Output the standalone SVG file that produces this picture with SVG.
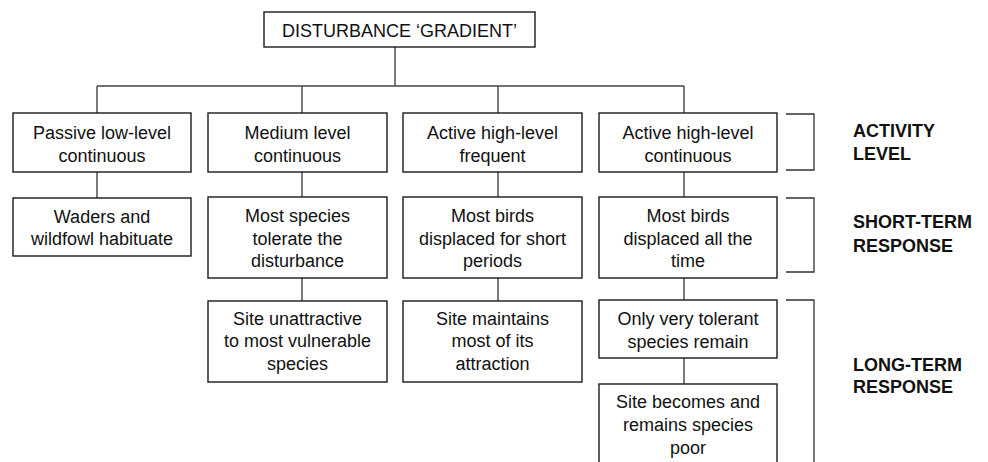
<svg xmlns="http://www.w3.org/2000/svg" width="988" height="462" viewBox="0 0 988 462">
  <style>
    .box { fill: #fff; stroke: #1a1a1a; stroke-width: 1.4; }
    .t { font-family: "Liberation Sans", Arial, sans-serif; font-size: 18px; fill: #111; text-anchor: middle; }
    .lbl { font-family: "Liberation Sans", Arial, sans-serif; font-size: 18px; font-weight: bold; fill: #111; }
    .link { fill: none; stroke: #444; stroke-width: 1.4; }
    .brk { fill: none; stroke: #333; stroke-width: 1.3; }
  </style>
  <rect width="988" height="462" fill="#fff"/>

  <!-- tree connectors -->
  <g id="connectors">
    <path class="link" d="M395,47 V86 M97,86 H684 M97,86 V113 M302,86 V113 M498,86 V113 M684,86 V113"/>
    <path class="link" d="M97,172 V198 M302,172 V197 M498,172 V197 M684,172 V197"/>
    <path class="link" d="M302,278 V301 M498,278 V301 M684,278 V300"/>
    <path class="link" d="M684,358 V384"/>
  </g>

  <!-- root -->
  <g id="root">
    <rect class="box" x="264" y="12" width="271" height="35"/>
    <text class="t" x="399.5" y="37">DISTURBANCE ‘GRADIENT’</text>
  </g>

  <!-- activity level row -->
  <g id="act1">
    <rect class="box" x="13" y="113" width="178" height="59"/>
    <text class="t" x="102" y="139">Passive low-level</text>
    <text class="t" x="102" y="162">continuous</text>
  </g>
  <g id="act2">
    <rect class="box" x="208" y="113" width="179" height="59"/>
    <text class="t" x="297.5" y="139">Medium level</text>
    <text class="t" x="297.5" y="162">continuous</text>
  </g>
  <g id="act3">
    <rect class="box" x="403" y="113" width="179" height="59"/>
    <text class="t" x="492.5" y="139">Active high-level</text>
    <text class="t" x="492.5" y="162">frequent</text>
  </g>
  <g id="act4">
    <rect class="box" x="599" y="113" width="178" height="59"/>
    <text class="t" x="688" y="139">Active high-level</text>
    <text class="t" x="688" y="162">continuous</text>
  </g>

  <!-- short-term response row -->
  <g id="short1">
    <rect class="box" x="13" y="198" width="178" height="58"/>
    <text class="t" x="102" y="223">Waders and</text>
    <text class="t" x="102" y="245">wildfowl habituate</text>
  </g>
  <g id="short2">
    <rect class="box" x="208" y="197" width="179" height="81"/>
    <text class="t" x="297.5" y="222">Most species</text>
    <text class="t" x="297.5" y="245">tolerate the</text>
    <text class="t" x="297.5" y="267">disturbance</text>
  </g>
  <g id="short3">
    <rect class="box" x="403" y="197" width="179" height="81"/>
    <text class="t" x="492.5" y="222">Most birds</text>
    <text class="t" x="492.5" y="245">displaced for short</text>
    <text class="t" x="492.5" y="267">periods</text>
  </g>
  <g id="short4">
    <rect class="box" x="599" y="197" width="178" height="81"/>
    <text class="t" x="688" y="222">Most birds</text>
    <text class="t" x="688" y="245">displaced all the</text>
    <text class="t" x="688" y="267">time</text>
  </g>

  <!-- long-term response rows -->
  <g id="long2">
    <rect class="box" x="208" y="301" width="179" height="81"/>
    <text class="t" x="297.5" y="325">Site unattractive</text>
    <text class="t" x="297.5" y="347">to most vulnerable</text>
    <text class="t" x="297.5" y="370">species</text>
  </g>
  <g id="long3">
    <rect class="box" x="403" y="301" width="179" height="81"/>
    <text class="t" x="492.5" y="325">Site maintains</text>
    <text class="t" x="492.5" y="347">most of its</text>
    <text class="t" x="492.5" y="370">attraction</text>
  </g>
  <g id="long4a">
    <rect class="box" x="599" y="300" width="178" height="58"/>
    <text class="t" x="688" y="325">Only very tolerant</text>
    <text class="t" x="688" y="348">species remain</text>
  </g>
  <g id="long4b">
    <rect class="box" x="599" y="384" width="178" height="84"/>
    <text class="t" x="688" y="408">Site becomes and</text>
    <text class="t" x="688" y="431">remains species</text>
    <text class="t" x="688" y="454">poor</text>
  </g>

  <!-- stage brackets and labels -->
  <g id="stage-activity">
    <path class="brk" d="M786,114 H814 V170 H786"/>
    <text class="lbl" x="853" y="137">ACTIVITY</text>
    <text class="lbl" x="853" y="160">LEVEL</text>
  </g>
  <g id="stage-short">
    <path class="brk" d="M786,198 H814 V272 H786"/>
    <text class="lbl" x="853" y="228">SHORT-TERM</text>
    <text class="lbl" x="853" y="252">RESPONSE</text>
  </g>
  <g id="stage-long">
    <path class="brk" d="M786,300 H814 V470"/>
    <text class="lbl" x="853" y="371">LONG-TERM</text>
    <text class="lbl" x="853" y="393">RESPONSE</text>
  </g>
</svg>
